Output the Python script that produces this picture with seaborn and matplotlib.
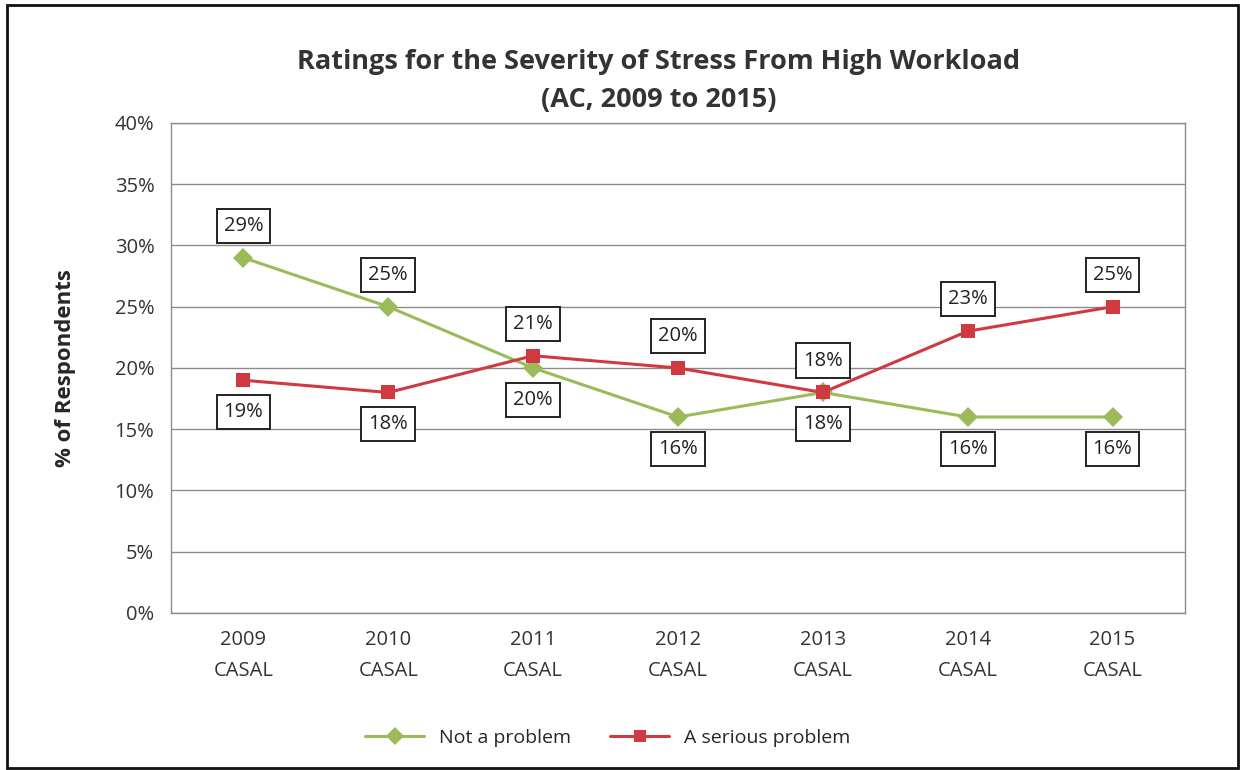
import pandas as pd
import seaborn as sns
import matplotlib.pyplot as plt
from matplotlib.ticker import PercentFormatter

# data
years = ['2009\nCASAL', '2010\nCASAL', '2011\nCASAL', '2012\nCASAL',
         '2013\nCASAL', '2014\nCASAL', '2015\nCASAL']
not_problem = [29, 25, 20, 16, 18, 16, 16]
serious = [19, 18, 21, 20, 18, 23, 25]
# label above (+1) or below (-1) the point
not_problem_pos = [1, 1, -1, -1, -1, -1, -1]
serious_pos = [-1, -1, 1, 1, 1, 1, 1]

df = pd.DataFrame({
    'Year': years * 2,
    'Value': not_problem + serious,
    'Series': ['Not a problem'] * 7 + ['A serious problem'] * 7,
})

sns.set_style('white')
plt.rcParams['font.family'] = ['Open Sans', 'DejaVu Sans']

green = '#9BBB59'
red = '#D0393F'

fig = plt.figure(figsize=(12.43, 7.70), dpi=100)
ax = fig.add_axes([0.1376, 0.2039, 0.8157, 0.6364])

sns.lineplot(data=df, x='Year', y='Value', hue='Series', style='Series',
             palette={'Not a problem': green, 'A serious problem': red},
             markers={'Not a problem': 'D', 'A serious problem': 's'},
             dashes=False, linewidth=2.2, markersize=10, markeredgewidth=0,
             sort=False, ax=ax)

ax.set_ylim(0, 40)
ax.set_xlim(-0.5, 6.5)
ax.yaxis.set_major_formatter(PercentFormatter(decimals=0))
ax.set_yticks(range(0, 41, 5))
ax.grid(axis='y', color='#8c8c8c', linewidth=1)
ax.set_axisbelow(True)
for s in ax.spines.values():
    s.set_color('#8c8c8c')
    s.set_linewidth(1)
ax.tick_params(axis='both', labelsize=14.5, colors='#333333', length=0, pad=12)
for t in ax.get_xticklabels():
    t.set_linespacing(1.75)
ax.set_xlabel('')
ax.set_ylabel('% of Respondents', fontsize=16, fontweight='bold', labelpad=28)

box = dict(boxstyle='square,pad=0.35', fc='white', ec='#222222', lw=1.4)
for vals, pos in [(not_problem, not_problem_pos), (serious, serious_pos)]:
    for i, (v, p) in enumerate(zip(vals, pos)):
        ax.annotate(f'{v}%', (i, v), xytext=(0, 23 * p), textcoords='offset points',
                    ha='center', va='center', fontsize=14.5, color='#222222', bbox=box)

ax.legend(loc='upper center', bbox_to_anchor=(0.431, -0.2), ncol=2, frameon=False,
          fontsize=14, handlelength=3, columnspacing=2.0, markerscale=0.9)

fig.suptitle('Ratings for the Severity of Stress From High Workload\n(AC, 2009 to 2015)',
             x=0.53, y=0.937, fontsize=19.5, fontweight='bold', color='#333333',
             linespacing=1.6)

# outer frame of the chart
fig.patches.append(plt.Rectangle((0.006, 0.003), 0.99, 0.99, transform=fig.transFigure,
                                 fill=False, ec='#111111', lw=2))

fig.savefig('out.png', dpi=100)
